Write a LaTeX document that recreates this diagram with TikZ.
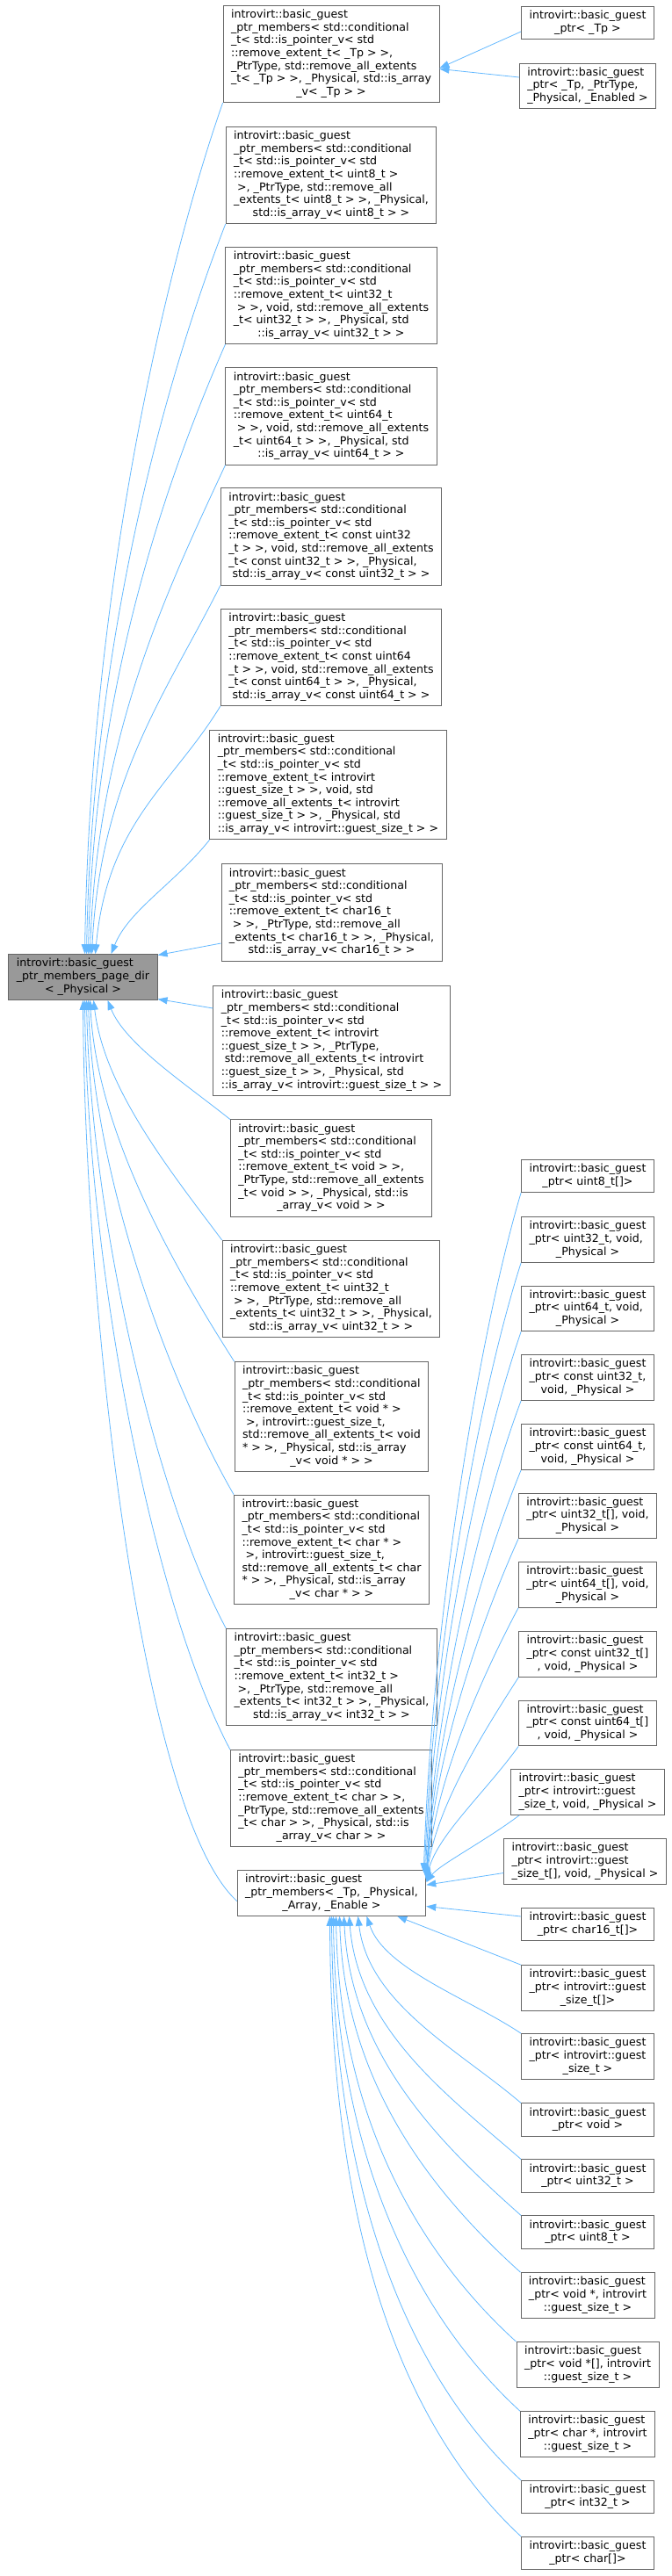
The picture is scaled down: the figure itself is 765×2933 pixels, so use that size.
\documentclass[tikz,border=0pt]{standalone}
\usepackage{fontspec}
\setmainfont{DejaVu Sans}
\usetikzlibrary{arrows.meta}
\definecolor{edgec}{HTML}{63B8FF}
\definecolor{boxc}{HTML}{666666}
\definecolor{selc}{HTML}{999999}
\newcommand{\dbox}[6]{\node[box,#6] (#1) at (#2,#3) {\begin{tabular}{@{}l@{}}#4\\\multicolumn{1}{@{}c@{}}{#5}\end{tabular}};}
\newcommand{\ib}{introvirt::basic\_guest}
\newcommand{\ptrm}{\_ptr\_members< std::conditional\\\_t< std::is\_pointer\_v< std}
\begin{document}
\begin{tikzpicture}[x=1pt,y=-1pt,
 box/.style={draw=boxc,line width=0.9pt,fill=white,inner xsep=9pt,inner ysep=4pt,font=\fontsize{12.6}{14.6}\selectfont},
 sel/.style={fill=selc},
 edge/.style={draw=edgec,line width=0.8pt,{Triangle[length=11pt,width=8pt]}-}]
\useasboundingbox (0,0) rectangle (765,2933);
% left node
\dbox{L}{94.5}{1112.5}{\ib\\\_ptr\_members\_page\_dir}{< \_Physical >}{sel}
% middle column
\dbox{m1}{377}{61.5}{\ib\\\ptrm\\::remove\_extent\_t< \_Tp > >,\\\_PtrType, std::remove\_all\_extents\\\_t< \_Tp > >, \_Physical, std::is\_array}{\_v< \_Tp > >}{}
\dbox{m2}{377}{199.5}{\ib\\\ptrm\\::remove\_extent\_t< uint8\_t >\\\ >, \_PtrType, std::remove\_all\\\_extents\_t< uint8\_t > >, \_Physical,}{std::is\_array\_v< uint8\_t > >}{}
\dbox{m3}{377}{336.5}{\ib\\\ptrm\\::remove\_extent\_t< uint32\_t\\\ > >, void, std::remove\_all\_extents\\\_t< uint32\_t > >, \_Physical, std}{::is\_array\_v< uint32\_t > >}{}
\dbox{m4}{377}{474}{\ib\\\ptrm\\::remove\_extent\_t< uint64\_t\\\ > >, void, std::remove\_all\_extents\\\_t< uint64\_t > >, \_Physical, std}{::is\_array\_v< uint64\_t > >}{}
\dbox{m5}{377}{611}{\ib\\\ptrm\\::remove\_extent\_t< const uint32\\\_t > >, void, std::remove\_all\_extents\\\_t< const uint32\_t > >, \_Physical,}{std::is\_array\_v< const uint32\_t > >}{}
\dbox{m6}{377}{748.5}{\ib\\\ptrm\\::remove\_extent\_t< const uint64\\\_t > >, void, std::remove\_all\_extents\\\_t< const uint64\_t > >, \_Physical,}{std::is\_array\_v< const uint64\_t > >}{}
\dbox{m7}{373.5}{893.5}{\ib\\\ptrm\\::remove\_extent\_t< introvirt\\::guest\_size\_t > >, void, std\\::remove\_all\_extents\_t< introvirt\\::guest\_size\_t > >, \_Physical, std}{::is\_array\_v< introvirt::guest\_size\_t > >}{}
\dbox{m8}{377.5}{1039}{\ib\\\ptrm\\::remove\_extent\_t< char16\_t\\\ > >, \_PtrType, std::remove\_all\\\_extents\_t< char16\_t > >, \_Physical,}{std::is\_array\_v< char16\_t > >}{}
\dbox{m9}{377.5}{1185}{\ib\\\ptrm\\::remove\_extent\_t< introvirt\\::guest\_size\_t > >, \_PtrType,\\\ std::remove\_all\_extents\_t< introvirt\\::guest\_size\_t > >, \_Physical, std}{::is\_array\_v< introvirt::guest\_size\_t > >}{}
\dbox{m10}{377}{1330}{\ib\\\ptrm\\::remove\_extent\_t< void > >,\\\_PtrType, std::remove\_all\_extents\\\_t< void > >, \_Physical, std::is}{\_array\_v< void > >}{}
\dbox{m11}{377}{1467.5}{\ib\\\ptrm\\::remove\_extent\_t< uint32\_t\\\ > >, \_PtrType, std::remove\_all\\\_extents\_t< uint32\_t > >, \_Physical,}{std::is\_array\_v< uint32\_t > >}{}
\dbox{m12}{377.5}{1613}{\ib\\\ptrm\\::remove\_extent\_t< void * >\\\ >, introvirt::guest\_size\_t,\\std::remove\_all\_extents\_t< void\\{}* > >, \_Physical, std::is\_array}{\_v< void * > >}{}
\dbox{m13}{377.5}{1764.5}{\ib\\\ptrm\\::remove\_extent\_t< char * >\\\ >, introvirt::guest\_size\_t,\\std::remove\_all\_extents\_t< char\\{}* > >, \_Physical, std::is\_array}{\_v< char * > >}{}
\dbox{m14}{377.5}{1909.5}{\ib\\\ptrm\\::remove\_extent\_t< int32\_t >\\\ >, \_PtrType, std::remove\_all\\\_extents\_t< int32\_t > >, \_Physical,}{std::is\_array\_v< int32\_t > >}{}
\dbox{m15}{377}{2047.5}{\ib\\\ptrm\\::remove\_extent\_t< char > >,\\\_PtrType, std::remove\_all\_extents\\\_t< char > >, \_Physical, std::is}{\_array\_v< char > >}{}
\dbox{m16}{377.5}{2155.5}{\ib\\\_ptr\_members< \_Tp, \_Physical,}{\_Array, \_Enable >}{}
% top right
\dbox{r1}{669}{26}{\ib}{\_ptr< \_Tp >}{}
\dbox{r2}{669}{98}{\ib\\\_ptr< \_Tp, \_PtrType,}{\_Physical, \_Enabled >}{}
% bottom right
\dbox{b1}{669}{1339}{\ib}{\_ptr< uint8\_t[]>}{}
\dbox{b2}{669}{1411.5}{\ib\\\_ptr< uint32\_t, void,}{\_Physical >}{}
\dbox{b3}{669}{1490}{\ib\\\_ptr< uint64\_t, void,}{\_Physical >}{}
\dbox{b4}{669}{1568.5}{\ib\\\_ptr< const uint32\_t,}{void, \_Physical >}{}
\dbox{b5}{669}{1647.5}{\ib\\\_ptr< const uint64\_t,}{void, \_Physical >}{}
\dbox{b6}{669}{1726}{\ib\\\_ptr< uint32\_t[], void,}{\_Physical >}{}
\dbox{b7}{669}{1804.5}{\ib\\\_ptr< uint64\_t[], void,}{\_Physical >}{}
\dbox{b8}{669}{1883.5}{\ib\\\_ptr< const uint32\_t[]}{, void, \_Physical >}{}
\dbox{b9}{669}{1962}{\ib\\\_ptr< const uint64\_t[]}{, void, \_Physical >}{}
\dbox{b10}{669}{2040.5}{\ib\\\_ptr< introvirt::guest}{\_size\_t, void, \_Physical >}{}
\dbox{b11}{666}{2119.5}{\ib\\\_ptr< introvirt::guest}{\_size\_t[], void, \_Physical >}{}
\dbox{b12}{669}{2191}{\ib}{\_ptr< char16\_t[]>}{}
\dbox{b13}{669}{2263.5}{\ib\\\_ptr< introvirt::guest}{\_size\_t[]>}{}
\dbox{b14}{669}{2341.5}{\ib\\\_ptr< introvirt::guest}{\_size\_t >}{}
\dbox{b15}{669}{2413.5}{\ib}{\_ptr< void >}{}
\dbox{b16}{669}{2477.5}{\ib}{\_ptr< uint32\_t >}{}
\dbox{b17}{669}{2541.5}{\ib}{\_ptr< uint8\_t >}{}
\dbox{b18}{669}{2613.5}{\ib\\\_ptr< void *, introvirt}{::guest\_size\_t >}{}
\dbox{b19}{669}{2692.5}{\ib\\\_ptr< void *[], introvirt}{::guest\_size\_t >}{}
\dbox{b20}{669}{2771.5}{\ib\\\_ptr< char *, introvirt}{::guest\_size\_t >}{}
\dbox{b21}{669}{2843}{\ib}{\_ptr< int32\_t >}{}
\dbox{b22}{669}{2907}{\ib}{\_ptr< char[]>}{}
% edges to L (above)
\draw[edge] ([xshift=2]L.north) .. controls +(6,-400) and +(-70,200) .. (m1.south west);
\draw[edge] ([xshift=4]L.north) .. controls +(6,-350) and +(-70,180) .. (m2.south west);
\draw[edge] ([xshift=6]L.north) .. controls +(6,-300) and +(-70,160) .. (m3.south west);
\draw[edge] ([xshift=8]L.north) .. controls +(8,-250) and +(-65,140) .. (m4.south west);
\draw[edge] ([xshift=10]L.north) .. controls +(10,-200) and +(-60,120) .. (m5.south west);
\draw[edge] ([xshift=14]L.north) .. controls +(14,-150) and +(-55,90) .. (m6.south west);
\draw[edge] ([xshift=32]L.north) .. controls +(20,-50) and +(-40,50) .. (m7.south west);
\draw[edge] ([yshift=25]L.east) -- ([yshift=-35]m8.west);
\draw[edge] ([yshift=-25]L.east) -- ([yshift=37]m9.west);
% edges to L (below)
\draw[edge] ([xshift=28]L.south) .. controls +(20,50) and +(-50,-40) .. (m10.north west);
\draw[edge] ([xshift=12]L.south) .. controls +(12,100) and +(-60,-80) .. (m11.north west);
\draw[edge] ([xshift=8]L.south) .. controls +(8,150) and +(-70,-110) .. (m12.north west);
\draw[edge] ([xshift=6]L.south) .. controls +(6,200) and +(-75,-130) .. (m13.north west);
\draw[edge] ([xshift=4]L.south) .. controls +(5,250) and +(-80,-150) .. (m14.north west);
\draw[edge] ([xshift=2]L.south) .. controls +(3,300) and +(-90,-170) .. (m15.north west);
\draw[edge] (L.south) .. controls +(2,350) and +(-110,-100) .. ([yshift=-9]m16.west);
% top right
\draw[edge] ([yshift=-16]m1.east) -- ([yshift=-10]r1.west);
\draw[edge] ([yshift=-17]m1.east) -- ([yshift=10]r2.west);
% bottom right to m16 (above)
\draw[edge] ([xshift=-3,yshift=-3]m16.north east) .. controls +(10,-300) and +(-45,150) .. (b1.south west);
\draw[edge] ([xshift=-2,yshift=-5]m16.north east) .. controls +(10,-270) and +(-45,140) .. (b2.south west);
\draw[edge] ([xshift=-1,yshift=-7]m16.north east) .. controls +(10,-240) and +(-45,130) .. (b3.south west);
\draw[edge] ([yshift=-8]m16.north east) .. controls +(10,-200) and +(-45,120) .. (b4.south west);
\draw[edge] ([yshift=-9]m16.north east) .. controls +(10,-170) and +(-45,110) .. (b5.south west);
\draw[edge] ([yshift=-10]m16.north east) .. controls +(10,-140) and +(-45,100) .. (b6.south west);
\draw[edge] ([yshift=-11]m16.north east) .. controls +(10,-110) and +(-45,85) .. (b7.south west);
\draw[edge] ([yshift=-12]m16.north east) .. controls +(10,-80) and +(-45,70) .. (b8.south west);
\draw[edge] ([yshift=-13]m16.north east) .. controls +(10,-50) and +(-40,55) .. (b9.south west);
\draw[edge] ([yshift=-14]m16.north east) .. controls +(15,-20) and +(-40,30) .. ([xshift=10]b10.south west);
\draw[edge] ([yshift=-17]m16.north east) -- ([yshift=-13]b11.west);
\draw[edge] ([yshift=-15]m16.east) -- ([yshift=9]b12.west);
% bottom right to m16 (below)
\draw[edge] ([xshift=-33]m16.south east) -- (b13.north west);
\draw[edge] ([xshift=40]m16.south) .. controls +(20,60) and +(-60,-40) .. (b14.north west);
\draw[edge] ([xshift=30]m16.south) .. controls +(12,100) and +(-70,-60) .. (b15.north west);
\draw[edge] ([xshift=20]m16.south) .. controls +(10,130) and +(-80,-70) .. (b16.north west);
\draw[edge] ([xshift=14]m16.south) .. controls +(8,160) and +(-90,-80) .. (b17.north west);
\draw[edge] ([xshift=9]m16.south) .. controls +(6,190) and +(-100,-90) .. (b18.north west);
\draw[edge] ([xshift=5]m16.south) .. controls +(4,230) and +(-110,-100) .. (b19.north west);
\draw[edge] ([xshift=2]m16.south) .. controls +(3,270) and +(-120,-110) .. (b20.north west);
\draw[edge] (m16.south) .. controls +(2,310) and +(-130,-120) .. (b21.north west);
\draw[edge] ([xshift=-2]m16.south) .. controls +(1,350) and +(-140,-130) .. (b22.north west);
\end{tikzpicture}
\end{document}
